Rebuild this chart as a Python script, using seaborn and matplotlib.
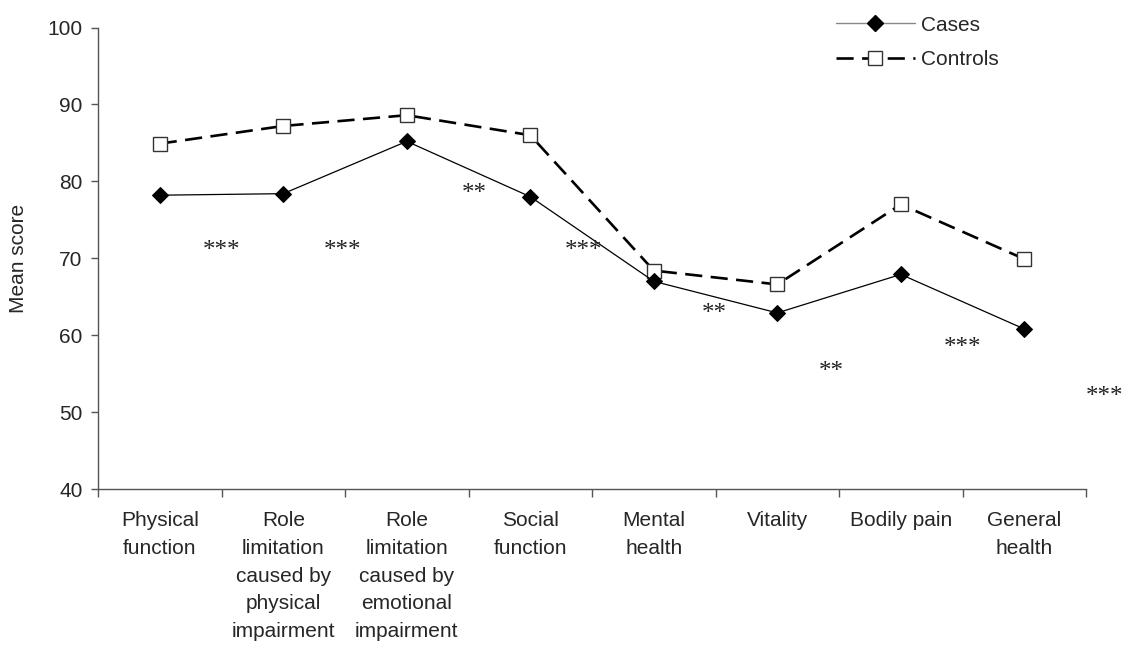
import pandas as pd
import matplotlib
matplotlib.use("Agg")
import matplotlib.pyplot as plt
from matplotlib.lines import Line2D
import seaborn as sns

# SF-36 domains
categories = ["Physical\nfunction",
              "Role\nlimitation\ncaused by\nphysical\nimpairment",
              "Role\nlimitation\ncaused by\nemotional\nimpairment",
              "Social\nfunction",
              "Mental\nhealth",
              "Vitality",
              "Bodily pain",
              "General\nhealth"]
cases = [78.2, 78.4, 85.2, 78.0, 67.0, 62.9, 67.9, 60.8]
controls = [84.9, 87.2, 88.6, 86.0, 68.4, 66.6, 77.0, 69.9]
sig_labels = ["***", "***", "**", "***", "**", "**", "***", "***"]
sig_y = [70.9, 70.9, 78.3, 70.9, 62.7, 55.2, 58.3, 52.0]
sig_dx = [0.5, 0.48, 0.55, 0.43, 0.49, 0.44, 0.5, 0.65]

df_cases = pd.DataFrame({"pos": range(len(categories)), "score": cases})
df_controls = pd.DataFrame({"pos": range(len(categories)), "score": controls})

sns.set_style("white")
plt.rcParams["font.family"] = ["Liberation Sans", "DejaVu Sans"]

fig = plt.figure(figsize=(11.29, 6.49), dpi=100)
ax = fig.add_axes([0.0868, 0.2465, 0.8752, 0.7111])

sns.lineplot(data=df_controls, x="pos", y="score", ax=ax, color="black",
             linewidth=1.9, dashes=False, marker="s", markersize=9.5,
             markerfacecolor="white", markeredgecolor="#333333",
             markeredgewidth=1.0)
ax.lines[-1].set_dashes((6.5, 3.2))
sns.lineplot(data=df_cases, x="pos", y="score", ax=ax, color="black",
             linewidth=0.9, marker="D", markersize=8.5,
             markerfacecolor="black", markeredgecolor="black")

for i, (lab, yv) in enumerate(zip(sig_labels, sig_y)):
    ax.text(i + sig_dx[i], yv, lab, ha="center", va="center", fontsize=18,
            family=["Liberation Serif", "DejaVu Serif"], color="#222222")

ax.set_xlim(-0.5, 7.5)
ax.set_ylim(40, 100)
ax.set_yticks(range(40, 101, 10))
ax.set_xticks(range(len(categories)))
ax.set_xticklabels(categories, fontsize=15, linespacing=1.58)
ax.set_xticks([i - 0.5 for i in range(len(categories) + 1)], minor=True)
ax.tick_params(axis="x", which="major", length=0, pad=16)
ax.tick_params(axis="x", which="minor", length=6, width=1, color="#555555",
               direction="out", bottom=True)
ax.tick_params(axis="y", length=5, width=1, color="#555555", direction="out",
               left=True, labelsize=15, pad=6)
ax.set_xlabel("")
ax.set_ylabel("Mean score", fontsize=15, labelpad=14)

sns.despine(ax=ax)
for side in ["left", "bottom"]:
    ax.spines[side].set_color("#555555")
    ax.spines[side].set_linewidth(1)

handles = [
    Line2D([0], [0], color="#888888", linewidth=1, marker="D", markersize=8.5,
           markerfacecolor="black", markeredgecolor="black"),
    Line2D([0], [0], color="black", linewidth=1.9, linestyle=(0, (6.5, 3.2)),
           marker="s", markersize=9.5, markerfacecolor="white",
           markeredgecolor="#333333"),
]
fig.legend(handles, ["Cases", "Controls"], loc="upper left",
           bbox_to_anchor=(0.7235, 1.005), frameon=False, fontsize=15,
           handlelength=3.8, handletextpad=0.3, labelspacing=0.75)

fig.savefig("out.png", dpi=100)
